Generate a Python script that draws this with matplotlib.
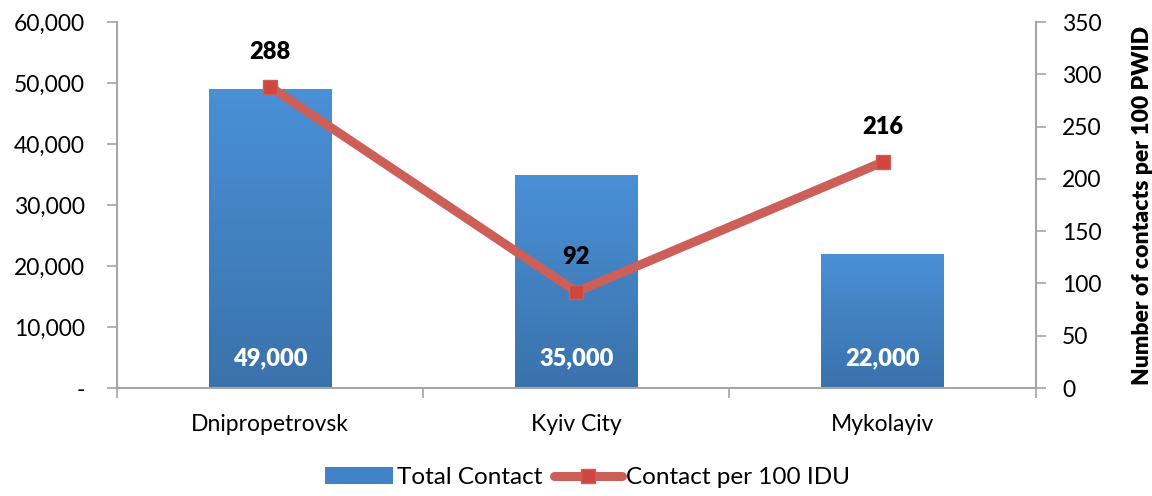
import numpy as np
import matplotlib
matplotlib.use("Agg")
import matplotlib.pyplot as plt
from matplotlib.ticker import FuncFormatter, FixedLocator
from matplotlib.lines import Line2D
from matplotlib.patches import Patch

# data
regions = ["Dnipropetrovsk", "Kyiv City", "Mykolayiv"]
total_contact = [49000, 35000, 22000]
contact_per_100 = [288, 92, 216]

plt.rcParams["font.family"] = ["Lato", "DejaVu Sans"]
plt.rcParams["font.size"] = 16.5

axis_grey = "#A6A6A6"
line_red = "#CD5F59"
marker_red = "#D0463F"

fig = plt.figure(figsize=(11.52, 4.96), dpi=100)
ax = fig.add_axes([0.1016, 0.2177, 0.7974, 0.7379])
x = np.arange(len(regions))

bars = ax.bar(x, total_contact, width=0.4, color="none", edgecolor="none", zorder=2)

# vertical gradient fill for each bar
grad = np.linspace(0, 1, 256).reshape(-1, 1)
cmap = matplotlib.colors.LinearSegmentedColormap.from_list("bargrad", ["#3A72AB", "#4A90D7"])
for b in bars:
    bx, by = b.get_x(), b.get_y()
    w, h = b.get_width(), b.get_height()
    im = ax.imshow(grad, cmap=cmap, origin="lower", aspect="auto",
                   extent=[bx, bx + w, by, by + h], zorder=2)
    im.set_clip_path(b)

for xi, v in zip(x, total_contact):
    ax.text(xi, 4900, f"{v:,}", ha="center", va="center", color="white",
            fontweight="heavy", fontsize=17, zorder=3)

ax.set_xlim(-0.5, 2.5)
ax.set_ylim(0, 60000)
ax.set_yticks(np.arange(0, 60001, 10000))
ax.yaxis.set_major_formatter(FuncFormatter(lambda v, p: "-" if v == 0 else f"{int(v):,}"))
ax.set_xticks(x)
ax.set_xticklabels(regions)
ax.xaxis.set_minor_locator(FixedLocator([-0.5, 0.5, 1.5, 2.5]))
ax.tick_params(axis="x", which="major", length=0, pad=19)
ax.tick_params(axis="x", which="minor", length=7, color=axis_grey, width=1.2)
ax.tick_params(axis="y", length=7, color=axis_grey, width=1.2, pad=16)

for s in ["top", "right"]:
    ax.spines[s].set_visible(False)
for s in ["left", "bottom"]:
    ax.spines[s].set_color(axis_grey)
    ax.spines[s].set_linewidth(1.5)

ax2 = ax.twinx()
ax2.plot(x, contact_per_100, color=line_red, linewidth=6.5, marker="s",
         markersize=10, markerfacecolor=marker_red, markeredgecolor=line_red,
         solid_capstyle="round", zorder=4)
for xi, v in zip(x, contact_per_100):
    ax2.annotate(str(v), (xi, v), xytext=(0, 25), textcoords="offset points",
                 ha="center", va="center", fontweight="heavy", fontsize=17)

ax2.set_ylim(0, 350)
ax2.set_yticks(np.arange(0, 351, 50))
ax2.tick_params(axis="y", length=7, color=axis_grey, width=1.2, pad=12)
for s in ["top", "left", "bottom"]:
    ax2.spines[s].set_visible(False)
ax2.spines["right"].set_color(axis_grey)
ax2.spines["right"].set_linewidth(1.5)
ax2.set_ylabel("Number of contacts per 100 PWID", fontweight="heavy", fontsize=16.5, labelpad=22)

handles = [
    Patch(facecolor="#4283C8", edgecolor="none"),
    Line2D([0], [0], color=line_red, linewidth=6.5, marker="s", markersize=10,
           markerfacecolor=marker_red, markeredgecolor=line_red, solid_capstyle="round"),
]
fig.legend(handles, ["Total Contact", "Contact per 100 IDU"], loc="lower center",
           bbox_to_anchor=(0.51, -0.028), ncol=2, frameon=False, handlelength=2.8,
           handletextpad=0.15, columnspacing=0.5, fontsize=17.5)

fig.savefig("out.png", dpi=100)
